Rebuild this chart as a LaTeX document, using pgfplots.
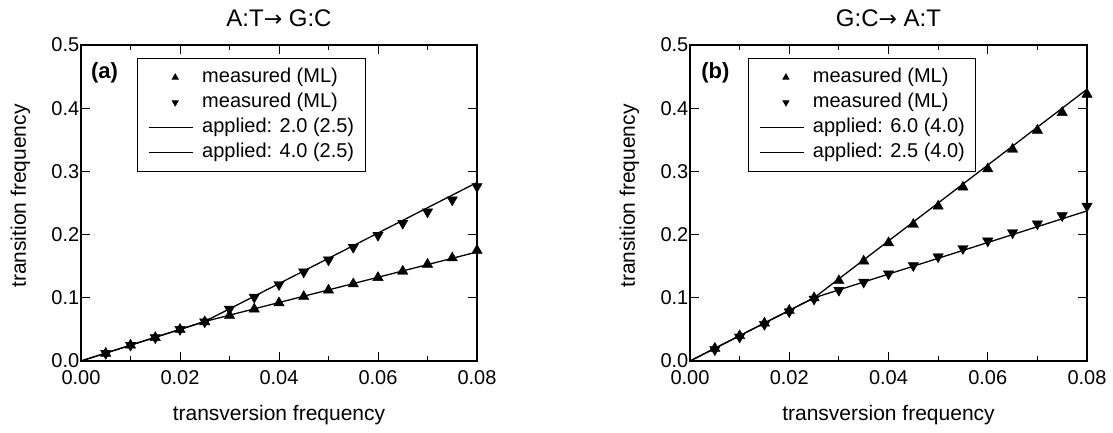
\documentclass[border=0pt]{standalone}
\usepackage{fontspec}
\setmainfont{Liberation Sans}
\newfontfamily\arrowfont{DejaVu Sans}
\usepackage{pgfplots}
\pgfplotsset{compat=1.18}

\pgfplotsset{
  panel/.style={
    scale only axis, width=396pt, height=316pt,
    xmin=0, xmax=0.08, ymin=0, ymax=0.5,
    clip=false, scaled ticks=false,
    axis line style={line width=1.1pt},
    tick style={line width=1pt, black},
    tick align=inside,
    major tick length=9pt, minor tick length=5pt,
    xtick={0,0.02,0.04,0.06,0.08},
    xticklabels={0.00,0.02,0.04,0.06,0.08},
    minor xtick={0.01,0.03,0.05,0.07},
    ytick={0,0.1,0.2,0.3,0.4,0.5},
    yticklabels={0.0,0.1,0.2,0.3,0.4,0.5},
    tick label style={font=\fontsize{20}{24}\selectfont},
    xticklabel style={anchor=north, inner sep=0pt, yshift=-9pt},
    yticklabel style={anchor=east, inner sep=0pt, xshift=-1.5pt},
    xlabel={transversion frequency},
    ylabel={transition frequency},
    xlabel style={font=\fontsize{21}{25}\selectfont, at={(rel axis cs:0.5,0)}, anchor=base, yshift=-59pt},
    ylabel style={font=\fontsize{21}{25}\selectfont, at={(rel axis cs:-0.139,0.522)}, anchor=base},
    title style={font=\fontsize{24}{28}\selectfont, at={(rel axis cs:0.5,1)}, anchor=base, yshift=13pt},
    legend cell align=left,
    legend style={anchor=north west, draw=black, line width=1pt,
      inner xsep=11pt, inner ysep=9.3pt, row sep=5pt, column sep=8.5pt,
      font=\fontsize{20}{24}\selectfont,
      nodes={inner sep=0pt, text height=15pt, text depth=5pt}},
  },
  meas/.style={only marks, mark=triangle*, mark size=6pt, black,
    legend image code/.code={\draw[##1, mark size=3.3pt] plot coordinates {(26pt,0pt)};}},
  measdown/.style={meas, mark options={rotate=180}},
  fit/.style={black, line width=1.3pt,
    legend image code/.code={\draw[##1, line width=1pt] (0pt,0pt) -- (44pt,0pt);}},
}

\begin{document}
\begin{tikzpicture}
\useasboundingbox (0,0) rectangle (1113pt,432pt);

\begin{axis}[panel, at={(81pt,71pt)}, anchor=south west,
  title={A:T{\arrowfont\fontsize{22}{26}\selectfont →} G:C},
  legend style={at={(rel axis cs:0.142,0.960)}}]
\addplot[meas] coordinates {
  (0.005,0.012)(0.010,0.025)(0.015,0.037)(0.020,0.050)(0.025,0.062)
  (0.030,0.072)(0.035,0.082)(0.040,0.092)(0.045,0.102)(0.050,0.112)
  (0.055,0.122)(0.060,0.132)(0.065,0.142)(0.070,0.153)(0.075,0.163)
  (0.080,0.175)};
\addlegendentry{measured (ML)}
\addplot[measdown] coordinates {
  (0.005,0.012)(0.010,0.025)(0.015,0.037)(0.020,0.050)(0.025,0.062)
  (0.030,0.082)(0.035,0.101)(0.040,0.121)(0.045,0.141)(0.050,0.160)
  (0.055,0.180)(0.060,0.199)(0.065,0.218)(0.070,0.236)(0.075,0.255)
  (0.080,0.276)};
\addlegendentry{measured (ML)}
\addplot[fit] coordinates {(0,0)(0.025,0.0625)(0.08,0.1725)};
\addlegendentry{applied: 2.0 (2.5)}
\addplot[fit] coordinates {(0,0)(0.025,0.0625)(0.08,0.2825)};
\addlegendentry{applied: 4.0 (2.5)}
\node[font=\bfseries\fontsize{22}{26}\selectfont, anchor=base west, inner sep=0pt]
  at (rel axis cs:0.025,0.893) {(a)};
\end{axis}

\begin{axis}[panel, at={(690pt,71pt)}, anchor=south west, width=397pt,
  title={G:C{\arrowfont\fontsize{22}{26}\selectfont →} A:T},
  legend style={at={(rel axis cs:0.146,0.960)}}]
\addplot[meas] coordinates {
  (0.005,0.020)(0.010,0.040)(0.015,0.060)(0.020,0.080)(0.025,0.100)
  (0.030,0.127)(0.035,0.158)(0.040,0.187)(0.045,0.216)(0.050,0.245)
  (0.055,0.275)(0.060,0.304)(0.065,0.335)(0.070,0.365)(0.075,0.393)
  (0.080,0.422)};
\addlegendentry{measured (ML)}
\addplot[measdown] coordinates {
  (0.005,0.018)(0.010,0.038)(0.015,0.058)(0.020,0.078)(0.025,0.098)
  (0.030,0.112)(0.035,0.125)(0.040,0.138)(0.045,0.151)(0.050,0.165)
  (0.055,0.178)(0.060,0.190)(0.065,0.203)(0.070,0.217)(0.075,0.230)
  (0.080,0.245)};
\addlegendentry{measured (ML)}
\addplot[fit] coordinates {(0,0)(0.025,0.1)(0.08,0.43)};
\addlegendentry{applied: 6.0 (4.0)}
\addplot[fit] coordinates {(0,0)(0.025,0.1)(0.08,0.2375)};
\addlegendentry{applied: 2.5 (4.0)}
\node[font=\bfseries\fontsize{22}{26}\selectfont, anchor=base west, inner sep=0pt]
  at (rel axis cs:0.028,0.893) {(b)};
\end{axis}
\end{tikzpicture}
\end{document}
